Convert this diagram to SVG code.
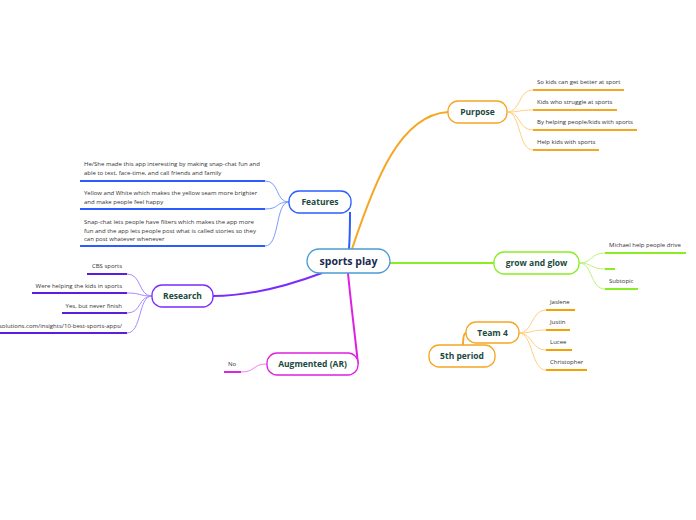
<svg xmlns="http://www.w3.org/2000/svg" width="696" height="520" viewBox="0 0 696 520">
<style>
.n{font-family:"Open Sans","Noto Sans",sans-serif;font-weight:bold;font-size:8.5px;fill:#1b4a3c;text-anchor:middle}
.c{font-family:"Open Sans","Noto Sans",sans-serif;font-weight:bold;font-size:10.5px;fill:#1a2a50;text-anchor:middle}
.l{font-family:"Open Sans","Noto Sans",sans-serif;font-size:6px;fill:#333}
.r{text-anchor:end}
.box{fill:#fff;stroke-width:1.3}
.main{fill:none;stroke-width:2}
.thin{fill:none;stroke-width:1}
.ul{fill:none;stroke-width:2}
</style>
<rect width="696" height="520" fill="#fff"/>
<g id="connectors">
<path class="main" stroke="#2a5cff" d="M349,249 C350,235 350,225 350,212"/>
<path class="main" stroke="#f5a623" d="M352,249 C375,180 400,115 448,112"/>
<path class="main" stroke="#88ee22" d="M390,263 L494,263"/>
<path class="main" stroke="#7a2cff" d="M322,273 C290,285 250,296 213,296"/>
<path class="main" stroke="#e020e0" d="M348,273 C351,305 355,335 358,364"/>
<path class="main" stroke="#f5a623" stroke-width="1.5" d="M463,345 C463,338 464,333 466,333"/>
<g stroke="#7a9cff" class="thin">
<path d="M289,202 C275,202 280,181 265,181"/>
<path d="M289,202 C275,202 280,209 265,209"/>
<path d="M289,202 C275,202 280,246 265,246"/>
</g>
<g stroke="#a98aff" class="thin">
<path d="M152,296 C138,296 142,274 127,274"/>
<path d="M152,296 C138,296 142,293 127,293"/>
<path d="M152,296 C138,296 142,313 127,313"/>
<path d="M152,296 C138,296 142,333 127,333"/>
</g>
<g stroke="#ffd080" class="thin">
<path d="M507,112 C521,112 518,90 533,90"/>
<path d="M507,112 C521,112 518,110 533,110"/>
<path d="M507,112 C521,112 518,130 533,130"/>
<path d="M507,112 C521,112 518,150 533,150"/>
<path d="M519,333 C533,333 531,310 546,310"/>
<path d="M519,333 C533,333 531,330 546,330"/>
<path d="M519,333 C533,333 531,350 546,350"/>
<path d="M519,333 C533,333 531,370 546,370"/>
</g>
<g stroke="#bdf27a" class="thin">
<path d="M579,263 C593,263 590,253 605,253"/>
<path d="M579,263 C593,263 590,269 605,269"/>
<path d="M579,263 C593,263 590,289 605,289"/>
</g>
<path class="thin" stroke="#f080f0" d="M267,364 C252,364 256,372 241,372"/>
</g>
<g id="central">
<rect class="box" x="307" y="249" width="83" height="24" rx="12" stroke="#4a9ad4"/>
<text class="c" x="348.5" y="265">sports play</text>
</g>
<g id="features">
<rect class="box" x="289" y="191" width="62" height="22" rx="10" stroke="#2a5cff"/>
<text class="n" x="320" y="205">Features</text>
<path class="ul" stroke="#2a5cff" d="M80,181 H265 M80,209 H265 M80,246 H265"/>
<text class="l" x="84" y="166">He/She made this app interesting by making snap-chat fun and</text>
<text class="l" x="84" y="175">able to text, face-time, and call friends and family</text>
<text class="l" x="84" y="195">Yellow and White which makes the yellow seam more brighter</text>
<text class="l" x="84" y="204">and make people feel happy</text>
<text class="l" x="84" y="224">Snap-chat lets people have filters which makes the app more</text>
<text class="l" x="84" y="232.5">fun and the app lets people post what is called stories so they</text>
<text class="l" x="84" y="241">can post whatever whenever</text>
</g>
<g id="research">
<rect class="box" x="152" y="285" width="61" height="22" rx="10" stroke="#7a2cff"/>
<text class="n" x="182.5" y="299">Research</text>
<path class="ul" stroke="#5a1ee0" d="M87,274 H127 M32,293 H127 M62,313 H127 M0,333 H127"/>
<text class="l r" x="122" y="268">CBS sports</text>
<text class="l r" x="122" y="288">Were helping the kids in sports</text>
<text class="l r" x="122" y="308">Yes, but never finish</text>
<text class="l r" x="122" y="328">solutions.com/insights/10-best-sports-apps/</text>
</g>
<g id="augmented">
<rect class="box" x="267" y="353" width="91" height="22" rx="10" stroke="#e020e0"/>
<text class="n" x="312.5" y="367">Augmented (AR)</text>
<path class="ul" stroke="#e020e0" d="M224,372 H241"/>
<text class="l" x="228" y="366">No</text>
</g>
<g id="purpose">
<rect class="box" x="448" y="101" width="59" height="22" rx="10" stroke="#f5a623"/>
<text class="n" x="477.5" y="115">Purpose</text>
<path class="ul" stroke="#f5a623" d="M533,90 H624 M533,110 H617 M533,130 H637 M533,150 H599"/>
<text class="l" x="537" y="84">So kids can get better at sport</text>
<text class="l" x="537" y="104">Kids who struggle at sports</text>
<text class="l" x="537" y="124">By helping people/kids with sports</text>
<text class="l" x="537" y="144">Help kids with sports</text>
</g>
<g id="grow">
<rect class="box" x="494" y="252" width="85" height="22" rx="10" stroke="#88ee22"/>
<text class="n" x="536.5" y="266">grow and glow</text>
<path class="ul" stroke="#88ee22" d="M605,253 H686 M605,269 H615 M605,289 H638"/>
<text class="l" x="609" y="247">Michael help people drive</text>
<text class="l" x="609" y="283">Subtopic</text>
</g>
<g id="team4">
<rect class="box" x="466" y="322" width="53" height="21" rx="10" stroke="#f5a623"/>
<text class="n" x="492.5" y="336">Team 4</text>
<path class="ul" stroke="#f5a000" d="M546,310 H575 M546,330 H570 M546,350 H572 M546,370 H587"/>
<text class="l" x="550" y="304">Jaslene</text>
<text class="l" x="550" y="324">Justin</text>
<text class="l" x="550" y="344">Lucee</text>
<text class="l" x="550" y="364">Christopher</text>
</g>
<g id="period">
<rect class="box" x="429" y="345" width="66" height="22" rx="10" stroke="#f5a623"/>
<text class="n" x="462" y="359">5th period</text>
</g>
</svg>
